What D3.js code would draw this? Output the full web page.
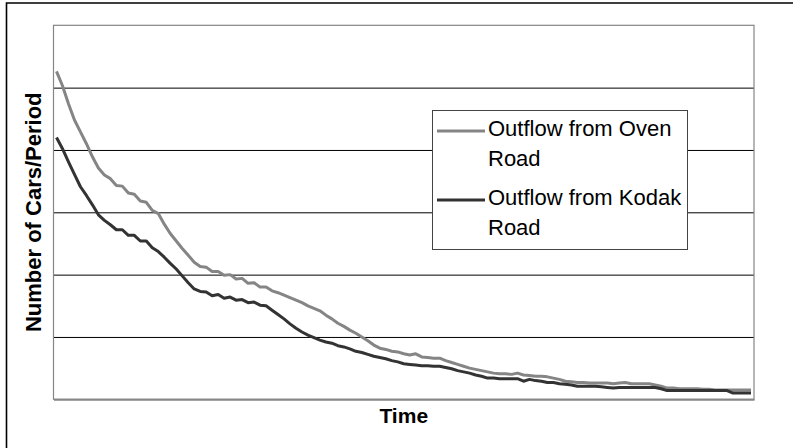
<!DOCTYPE html>
<html>
<head>
<meta charset="utf-8">
<script src="https://cdn.jsdelivr.net/npm/d3@7"></script>
<style>
  html, body { margin: 0; padding: 0; background: #fff; }
  svg { display: block; }
  text { font-family: "Liberation Sans", Arial, sans-serif; }
</style>
</head>
<body>
<svg id="chart" width="793" height="448"></svg>
<script>
// ---- data (cars per period) ----
const seriesNames = ["Outflow from Oven Road", "Outflow from Kodak Road"];
const ovenRoad = [
  52.6,50.3,47.4,44.8,42.9,41.0,38.9,37.1,36.0,35.4,
  34.3,34.2,33.1,32.9,31.8,31.6,30.3,29.8,28.1,26.6,
  25.4,24.2,23.1,22.0,21.3,21.2,20.5,20.5,19.9,20.0,
  19.3,19.4,18.6,18.7,18.0,18.0,17.4,17.1,16.7,16.3,
  15.9,15.5,15.0,14.6,14.2,13.5,12.9,12.2,11.7,11.1,
  10.6,10.0,9.4,8.7,8.2,8.0,7.7,7.6,7.3,7.1,
  7.3,6.8,6.7,6.6,6.6,6.2,5.9,5.6,5.3,5.0,
  4.8,4.6,4.4,4.2,4.1,4.1,4.0,4.2,3.9,3.8,
  3.7,3.7,3.6,3.4,3.2,2.9,2.8,2.7,2.7,2.6,
  2.6,2.6,2.6,2.5,2.6,2.7,2.5,2.5,2.5,2.5,
  2.3,2.1,1.8,1.8,1.7,1.7,1.7,1.7,1.6,1.6,
  1.5,1.5,1.5,1.5,1.5,1.5,1.5
];
const kodakRoad = [
  42.0,40.2,38.1,36.1,34.1,32.7,31.2,29.6,28.7,28.0,
  27.2,27.2,26.3,26.3,25.4,25.4,24.3,23.7,22.8,21.8,
  20.9,19.8,18.7,17.7,17.3,17.2,16.6,16.8,16.2,16.4,
  15.9,16.0,15.5,15.6,15.1,15.0,14.3,13.6,12.9,12.1,
  11.4,10.8,10.3,9.9,9.5,9.2,9.0,8.6,8.4,8.1,
  7.7,7.5,7.2,6.9,6.7,6.5,6.2,6.0,5.7,5.6,
  5.5,5.4,5.4,5.3,5.3,5.1,4.9,4.6,4.4,4.2,
  3.9,3.7,3.4,3.4,3.3,3.3,3.3,3.3,2.9,3.2,
  3.0,2.9,2.7,2.7,2.5,2.4,2.3,2.1,2.1,2.1,
  2.1,2.0,1.9,1.8,1.9,1.9,1.9,1.9,1.9,1.9,
  1.9,1.7,1.4,1.4,1.4,1.4,1.4,1.4,1.4,1.4,
  1.4,1.4,1.4,1.0,1.0,1.0,1.0
];
const gridValues = [10, 20, 30, 40, 50];
const yMax = 60;
const xTitle = "Time";
const yTitle = "Number of Cars/Period";

// ---- layout ----
const svg = d3.select("#chart");
const pLeft = 53.5, pRight = 754, pTop = 25.3, pBottom = 399.3;
const n = ovenRoad.length;

const x = d3.scaleLinear().domain([-0.5, n - 0.5]).range([pLeft, pRight]);
const y = d3.scaleLinear().domain([0, yMax]).range([pBottom, pTop]);

// outer frame (extends past the bottom/right edge)
svg.append("path")
  .attr("d", `M6.5,460 V3 H800`)
  .attr("fill", "none").attr("stroke", "#000").attr("stroke-width", 1.6);

// gridlines via axis
const grid = svg.append("g")
  .attr("transform", `translate(${pLeft},0)`)
  .call(d3.axisLeft(y).tickValues(gridValues).tickSize(-(pRight - pLeft)).tickFormat(""));
grid.select(".domain").remove();
grid.selectAll(".tick line").attr("stroke", "#000").attr("stroke-width", 1);

// plot area border (gray)
svg.append("rect")
  .attr("x", pLeft).attr("y", pTop)
  .attr("width", pRight - pLeft).attr("height", pBottom - pTop)
  .attr("fill", "none").attr("stroke", "#868686").attr("stroke-width", 1.2);

// bottom axis line
svg.append("g")
  .attr("transform", `translate(0,${pBottom})`)
  .call(d3.axisBottom(x).tickValues([]).tickSize(0))
  .select(".domain").attr("stroke", "#868686").attr("stroke-width", 2);

// lines
const line = d3.line().x((d, i) => x(i)).y(d => y(d));
const colors = ["#858585", "#333333"];
[ovenRoad, kodakRoad].forEach((s, k) => {
  svg.append("path")
    .datum(s)
    .attr("d", line)
    .attr("fill", "none")
    .attr("stroke", colors[k])
    .attr("stroke-width", 3)
    .attr("stroke-linejoin", "round");
});

// axis titles
svg.append("text")
  .attr("x", (pLeft + pRight) / 2).attr("y", 423)
  .attr("text-anchor", "middle")
  .attr("font-size", 21).attr("font-weight", "bold")
  .text(xTitle);

svg.append("text")
  .attr("transform", `translate(41,${(pTop + pBottom) / 2}) rotate(-90)`)
  .attr("text-anchor", "middle")
  .attr("font-size", 22).attr("font-weight", "bold")
  .text(yTitle);

// legend
const lg = svg.append("g");
lg.append("rect")
  .attr("x", 432.5).attr("y", 110.5).attr("width", 255).attr("height", 139)
  .attr("fill", "#fff").attr("stroke", "#444").attr("stroke-width", 1);
const legendRows = [
  { lines: ["Outflow from Oven", "Road"], y: 135.5, sample: 131 },
  { lines: ["Outflow from Kodak", "Road"], y: 204.5, sample: 200 }
];
legendRows.forEach((r, k) => {
  lg.append("line")
    .attr("x1", 437).attr("x2", 485)
    .attr("y1", r.sample).attr("y2", r.sample)
    .attr("stroke", colors[k]).attr("stroke-width", 3);
  r.lines.forEach((t, j) => {
    lg.append("text")
      .attr("x", 488).attr("y", r.y + j * 30)
      .attr("font-size", 22)
      .attr("fill", "#000")
      .text(t);
  });
});
</script>
</body>
</html>
